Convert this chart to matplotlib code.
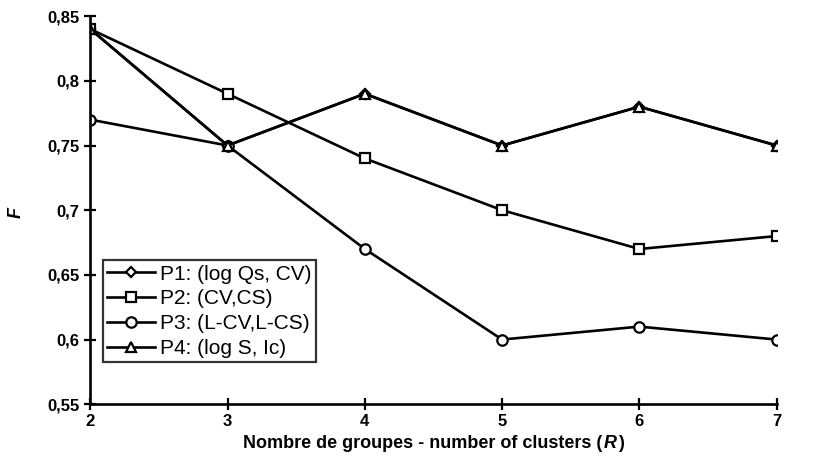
import matplotlib
matplotlib.use("Agg")
import matplotlib.pyplot as plt

clusters = [2, 3, 4, 5, 6, 7]
p1 = [0.84, 0.75, 0.79, 0.75, 0.78, 0.75]
p2 = [0.84, 0.79, 0.74, 0.70, 0.67, 0.68]
p3 = [0.77, 0.75, 0.67, 0.60, 0.61, 0.60]
p4 = [0.84, 0.75, 0.79, 0.75, 0.78, 0.75]
labels = ["P1: (log Qs, CV)", "P2: (CV,CS)", "P3: (L-CV,L-CS)", "P4: (log S, Ic)"]
yticks = [0.55, 0.6, 0.65, 0.7, 0.75, 0.8, 0.85]
ytick_labels = ["0,55", "0,6", "0,65", "0,7", "0,75", "0,8", "0,85"]

plt.rcParams['font.family'] = ['Liberation Sans', 'DejaVu Sans']

fig = plt.figure(figsize=(8.36, 4.75), dpi=100)
ax = fig.add_axes([0.108, 0.149, 0.821, 0.817])

common = dict(color='black', linewidth=1.9, markerfacecolor='white',
              markeredgecolor='black', markeredgewidth=1.6)
ax.plot(clusters, p1, marker='D', markersize=5, label=labels[0], **common)
ax.plot(clusters, p2, marker='s', markersize=7.5, label=labels[1], **common)
ax.plot(clusters, p3, marker='o', markersize=7.5, label=labels[2], **common)
ax.plot(clusters, p4, marker='^', markersize=7.5, label=labels[3], **common)

ax.set_xlim(2, 7)
ax.set_ylim(0.55, 0.85)
ax.set_xticks(clusters)
ax.set_xticklabels([str(c) for c in clusters], fontweight='bold', fontsize=12)
ax.set_yticks(yticks)
ax.set_yticklabels(ytick_labels, fontweight='bold', fontsize=12)
ax.tick_params(direction='inout', length=8, width=1.6)
ax.tick_params(axis='x', pad=3)
ax.tick_params(axis='y', pad=4)
for s in ['top', 'right']:
    ax.spines[s].set_visible(False)
for s in ['left', 'bottom']:
    ax.spines[s].set_linewidth(1.9)
for lab in ax.get_xticklabels() + ax.get_yticklabels():
    lab.set_clip_on(False)

# y label
fig.text(16 / 836, 1 - 212 / 475, "F", fontsize=13, fontweight='bold', fontstyle='italic',
         rotation=90, ha='center', va='center')

leg = ax.legend(loc='lower left', bbox_to_anchor=(0.018, 0.108), frameon=True, fancybox=False,
                fontsize=15, handlelength=2.3, handletextpad=0.25, borderpad=0.2,
                labelspacing=0.28, borderaxespad=0)
leg.get_frame().set_edgecolor('black')
leg.get_frame().set_linewidth(1.6)

# x label with italic R
fig.canvas.draw()
r = fig.canvas.get_renderer()
ylab = 1 - 443 / 475
kw = dict(fontsize=13, fontweight='bold', va='center')
t1 = fig.text(0, ylab, "Nombre de groupes - number of clusters (", **kw)
t2 = fig.text(0, ylab, "R", fontstyle='italic', **kw)
t3 = fig.text(0, ylab, ")", **kw)
w1 = t1.get_window_extent(r).width
w2 = t2.get_window_extent(r).width
w3 = t3.get_window_extent(r).width
total = w1 + w2 + w3 + 2
cx = (ax.get_position().x0 + ax.get_position().x1) / 2 * fig.bbox.width
x0 = cx - total / 2
t1.set_x(x0 / fig.bbox.width)
t2.set_x((x0 + w1 + 1) / fig.bbox.width)
t3.set_x((x0 + w1 + w2 + 2) / fig.bbox.width)

fig.savefig("out.png", dpi=100)
